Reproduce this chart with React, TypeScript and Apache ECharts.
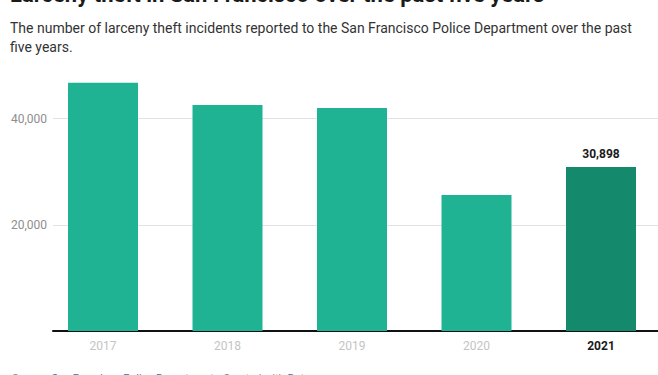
import React, { useEffect, useRef } from "react";
import * as echarts from "echarts";

const years = ["2017", "2018", "2019", "2020", "2021"];
const incidents = [46736, 42540, 41975, 25607, 30898];
const highlightYear = "2021";
const yTicks = [0, 20000, 40000];
const yMax = 50000;

const FONT = "Roboto, 'Noto Sans', sans-serif";

export default function App() {
  const ref = useRef<HTMLDivElement>(null);
  useEffect(() => {
    if (!ref.current) return;
    const chart = echarts.init(ref.current, undefined, { renderer: "svg" });
    const top = 65.35;
    const bottom = 43.9;
    const xMin = -0.5;
    const xMax = xMin + (658 - 40.75) / 124.5;
    chart.setOption({
      animation: false,
      textStyle: { fontFamily: FONT },
      grid: [
        { left: 53, right: 0, top, bottom },
        { left: 40.75, right: 0, top, bottom },
      ],
      xAxis: [
        {
          gridIndex: 0,
          type: "value",
          min: 0,
          max: 1,
          axisLine: { show: true, onZero: false, lineStyle: { color: "#111", width: 2 } },
          axisTick: { show: false },
          axisLabel: { show: false },
          splitLine: { show: false },
        },
        {
          gridIndex: 1,
          type: "value",
          min: xMin,
          max: xMax,
          interval: 0.5,
          axisLine: { show: false },
          axisTick: { show: false },
          splitLine: { show: false },
          axisLabel: {
            margin: 9,
            fontSize: 12,
            fontFamily: FONT,
            color: "#c4c4c4",
            showMaxLabel: false,
            formatter: (v: number) => {
              if (!Number.isInteger(v) || v < 0 || v >= years.length) return "";
              const y = years[v];
              return y === highlightYear ? `{b|${y}}` : y;
            },
            rich: { b: { fontWeight: "bold", color: "#1a1a1a", fontSize: 12, fontFamily: FONT } },
          },
        },
      ],
      yAxis: [
        {
          gridIndex: 0,
          type: "value",
          min: 0,
          max: yMax,
          interval: yTicks[1] - yTicks[0],
          axisLine: { show: false },
          axisTick: { show: false },
          axisLabel: {
            margin: 6,
            fontSize: 12,
            color: "#8e8e8e",
            fontFamily: FONT,
            showMinLabel: false,
            showMaxLabel: false,
            formatter: (v: number) => (yTicks.includes(v) && v !== 0 ? v.toLocaleString("en-US") : ""),
          },
          splitLine: {
            show: true,
            lineStyle: { color: ["rgba(0,0,0,0)", "#e3e3e3", "#e3e3e3", "rgba(0,0,0,0)"], width: 1 },
          },
        },
        {
          gridIndex: 1,
          type: "value",
          min: 0,
          max: yMax,
          show: false,
          splitLine: { show: false },
        },
      ],
      series: [
        {
          type: "bar",
          xAxisIndex: 1,
          yAxisIndex: 1,
          barWidth: 70,
          data: years.map((y, i) => ({
            value: [i, incidents[i]],
            itemStyle: { color: y === highlightYear ? "#15896c" : "#1fb393" },
            label:
              y === highlightYear
                ? {
                    show: true,
                    position: "top",
                    distance: 7,
                    fontSize: 12,
                    fontWeight: "bold",
                    color: "#1a1a1a",
                    fontFamily: FONT,
                    formatter: (p: any) => Number(p.value[1]).toLocaleString("en-US"),
                  }
                : { show: false },
          })),
        },
      ],
      graphic: [
        {
          type: "text",
          left: 10,
          top: -16.5,
          style: {
            text: "Larceny theft in San Francisco over the past five years",
            font: `bold 22px ${FONT}`,
            fill: "#1a1a1a",
          },
        },
        {
          type: "text",
          left: 10,
          top: 18,
          style: {
            text:
              "The number of larceny theft incidents reported to the San Francisco Police Department over the past\nfive years.",
            font: `14px ${FONT}`,
            lineHeight: 19,
            fill: "#333",
          },
        },
        {
          type: "text",
          left: 12,
          top: 372.5,
          style: {
            text: "{g|Source: }{l|San Francisco Police Department}{g| • Created with }{l|Datawrapper}",
            rich: {
              g: { fontSize: 11, fill: "#888", fontFamily: FONT },
              l: { fontSize: 11, fill: "#1d81a2", fontFamily: FONT },
            },
          },
        },
      ],
    });
    return () => chart.dispose();
  }, []);
  return (
    <div
      ref={ref}
      style={{ position: "fixed", left: 0, top: 0, width: 658, height: 375, background: "#fff" }}
    />
  );
}
